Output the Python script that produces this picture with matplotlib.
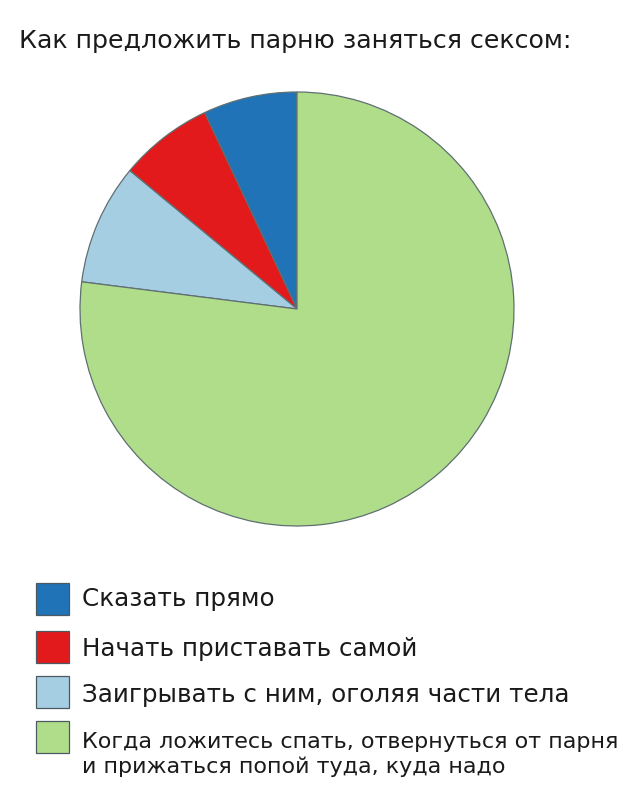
import matplotlib
matplotlib.use("Agg")
import matplotlib.pyplot as plt
from matplotlib.patches import Rectangle

plt.rcParams['font.family'] = ['DejaVu Sans']

title = "Как предложить парню заняться сексом:"
categories = [
    "Сказать прямо",
    "Начать приставать самой",
    "Заигрывать с ним, оголяя части тела",
    "Когда ложитесь спать, отвернуться от парня\nи прижаться попой туда, куда надо",
]
values = [7, 7, 9, 77]
colors = ["#1f73b6", "#e31a1c", "#a6cee3", "#b0dd8a"]

W, H = 640, 799
fig = plt.figure(figsize=(W / 100, H / 100), dpi=100)
fig.patch.set_facecolor("white")

# pie
cx, cy, r = 297, 309, 217
ax = fig.add_axes([(cx - r) / W, 1 - (cy + r) / H, 2 * r / W, 2 * r / H])
ax.pie(values, colors=colors, startangle=90, counterclock=True, radius=1,
       wedgeprops=dict(edgecolor="#5f6f72", linewidth=0.9))
ax.set_xlim(-1.0, 1.0)
ax.set_ylim(-1.0, 1.0)
ax.set_aspect("equal")
ax.axis("off")

# overlay axes in pixel coordinates for title and legend
ov = fig.add_axes([0, 0, 1, 1], zorder=-1)
ov.set_xlim(0, W)
ov.set_ylim(H, 0)
ov.axis("off")

ov.text(19, 48, title, fontsize=18.2, va="baseline", ha="left", color="#1a1a1a")

box_y = [583, 631, 676, 721]
text_base = [606, 656, 702, 773]
sizes = [17.7, 17.7, 17.7, 16]
for cat, col, by, tb, fs in zip(categories, colors, box_y, text_base, sizes):
    ov.add_patch(Rectangle((36, by), 33, 32, facecolor=col, edgecolor="#4a5a60", linewidth=0.9))
    ov.text(82, tb, cat, fontsize=fs, va="baseline", ha="left", color="#1a1a1a",
            linespacing=1.25)

fig.savefig("out.png", dpi=100, facecolor="white")
